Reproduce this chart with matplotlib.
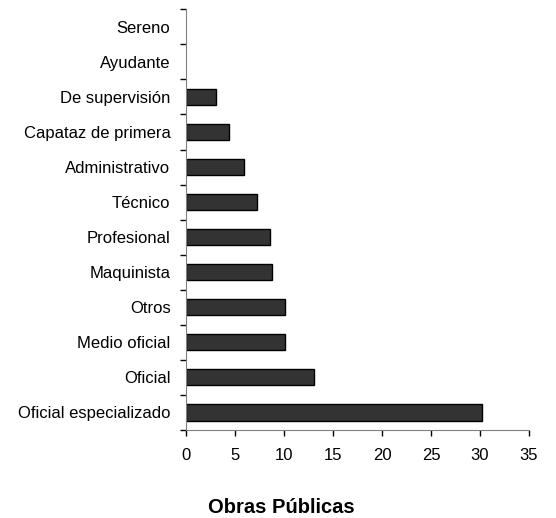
import matplotlib.pyplot as plt
import numpy as np

plt.rcParams['font.family'] = ['Liberation Sans', 'DejaVu Sans']

categorias = ['Oficial especializado', 'Oficial', 'Medio oficial', 'Otros',
              'Maquinista', 'Profesional', 'Técnico', 'Administrativo',
              'Capataz de primera', 'De supervisión', 'Ayudante', 'Sereno']
valores = [30.15, 13.0, 10.1, 10.1, 8.73, 8.53, 7.2, 5.84, 4.37, 2.98, 0, 0]

fig = plt.figure(figsize=(5.56, 5.18), dpi=100)
ax = fig.add_axes([0.3354, 0.1699, 0.616, 0.8121])

y = np.arange(len(categorias))
# sin borde en las barras de valor cero
bordes = [1 if v > 0 else 0 for v in valores]
ax.barh(y, valores, height=0.46, color='#333333', edgecolor='black', linewidth=bordes)

ax.set_xlim(0, 35)
ax.set_ylim(-0.5, len(categorias) - 0.5)
ax.set_xticks(np.arange(0, 36, 5))
ax.set_yticks(y)
ax.set_yticklabels(categorias)
ax.set_yticks(np.arange(-0.5, len(categorias), 1), minor=True)

ax.tick_params(axis='y', which='major', length=0, pad=11.5, labelsize=12)
ax.tick_params(axis='y', which='minor', length=4, width=1, direction='out')
ax.tick_params(axis='x', length=4, width=1, direction='out', pad=9, labelsize=12)

ax.spines['top'].set_visible(False)
ax.spines['right'].set_visible(False)
for s in ['left', 'bottom']:
    ax.spines[s].set_color('#808080')

fig.text(0.5054, 0.0097, 'Obras Públicas', ha='center', va='baseline',
         fontsize=14.5, fontweight='bold')

plt.savefig('out.png', dpi=100)
